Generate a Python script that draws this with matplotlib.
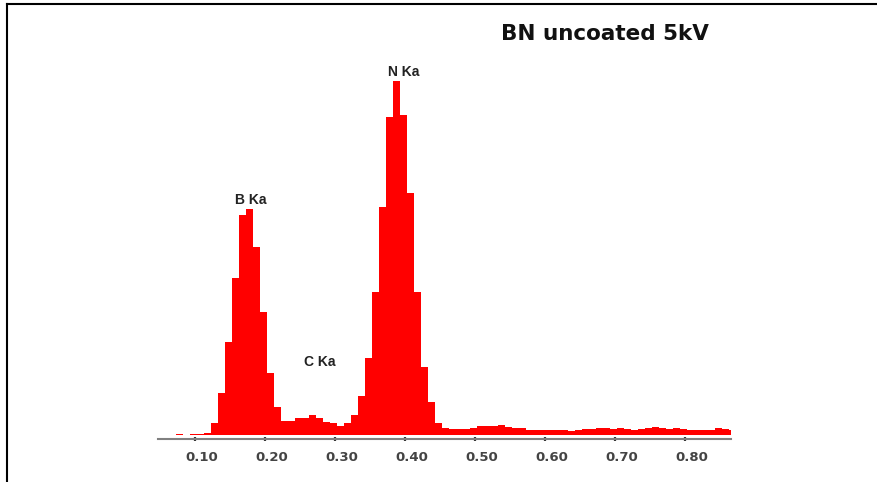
import numpy as np
import matplotlib
matplotlib.use("Agg")
import matplotlib.pyplot as plt
from matplotlib.lines import Line2D
from matplotlib.transforms import ScaledTranslation

# ---- data (energy in keV, counts in arbitrary units) ----
bin_start = 0.072
bin_width = 0.01
counts = [
    1, 0, 1, 1, 2.5, 12.3, 42.5, 93.3, 157.3, 220, 225.7, 188.3, 123.3, 62.3,
    28, 14, 14, 17.3, 17.3, 20, 16.7, 13, 11.7, 9.5, 11.7, 20, 39.3, 76.7,
    142.7, 228.3, 317.7, 354.3, 320, 241.7, 142.7, 68.3, 32.7, 11.7, 6.7,
    # tail 0.462 .. 0.862
    6.3, 6, 6, 7, 9, 9.3, 9.3, 9.8, 8.5, 7.5, 6.7, 5.3, 5, 5, 5, 5, 5, 4,
    5.5, 5.7, 6, 7, 7.3, 5.8, 7, 5.7, 5.5, 6, 7.5, 7.7, 7.5, 6, 7, 5.7, 5,
    4.7, 5, 5.3, 6.7, 6.3, 5.5,
]
edges = bin_start + bin_width * np.arange(len(counts) + 1)

tick_values = [0.10, 0.20, 0.30, 0.40, 0.50, 0.60, 0.70, 0.80]
tick_labels = ["0.10", "0.20", "0.30", "0.40", "0.50", "0.60", "0.70", "0.80"]

peak_names = ["B Ka", "C Ka", "N Ka"]
peak_x = [0.1796, 0.2781, 0.3981]
peak_y = [230.5, 69, 358.5]

title = "BN uncoated 5kV"

# ---- figure ----
W, H = 877, 482
fig = plt.figure(figsize=(W / 100, H / 100), dpi=100)
fig.patch.set_facecolor("white")

ax_left, ax_right, ax_bottom_px = 158, 731, 439
ax = fig.add_axes([ax_left / W, (H - ax_bottom_px) / H,
                   (ax_right - ax_left) / W, ax_bottom_px / H])
ax.set_xlim(0.1 + (ax_left - 195.3) / 700, 0.1 + (ax_right - 195.3) / 700)
ax.set_ylim(-4, 435)
ax.patch.set_alpha(0)

ax.stairs(counts, edges, fill=True, color="#ff0000", baseline=0, lw=0)

for s in ["top", "right", "left"]:
    ax.spines[s].set_visible(False)
ax.spines["bottom"].set_color("#808080")
ax.spines["bottom"].set_linewidth(1.5)
ax.set_yticks([])
ax.set_xticks(tick_values)
ax.set_xticklabels(tick_labels, fontsize=9.5, fontweight="bold",
                   color="#444444", family="DejaVu Sans")
ax.tick_params(axis="x", direction="inout", length=3, width=1.6,
               color="#333333", pad=7.2)
offset = ScaledTranslation(6.7 / 100, 0, fig.dpi_scale_trans)
for lab in ax.get_xticklabels():
    lab.set_transform(lab.get_transform() + offset)

for name, x, y in zip(peak_names, peak_x, peak_y):
    ax.text(x, y, name, ha="center", va="baseline", fontsize=10,
            fontweight="bold", color="#222222", family="Liberation Sans")

fig.text(605.3 / W, 1 - 39.5 / H, title, ha="center", va="baseline",
         fontsize=15.5, fontweight="bold", color="#111111",
         family="DejaVu Sans")

# frame lines
fig.add_artist(Line2D([7.3 / W, 1], [1 - 4.3 / H, 1 - 4.3 / H],
                      color="black", lw=1.5, transform=fig.transFigure))
fig.add_artist(Line2D([7.3 / W, 7.3 / W], [0, 1 - 4.3 / H],
                      color="black", lw=1.5, transform=fig.transFigure))

fig.savefig("out.png", dpi=100)
